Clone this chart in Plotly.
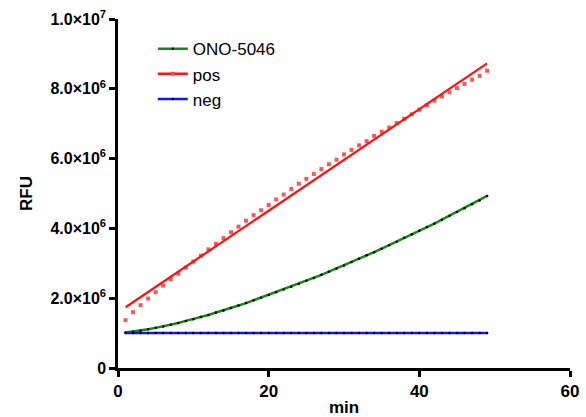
import plotly.graph_objects as go

minutes = list(range(1, 50))

ono_5046 = [1.015, 1.04, 1.07, 1.11, 1.15, 1.19, 1.24, 1.29, 1.35, 1.40,
            1.46, 1.52, 1.59, 1.65, 1.72, 1.79, 1.86, 1.94, 2.01, 2.09,
            2.17, 2.25, 2.33, 2.41, 2.50, 2.58, 2.67, 2.76, 2.85, 2.94,
            3.04, 3.13, 3.23, 3.32, 3.42, 3.52, 3.62, 3.73, 3.83, 3.93,
            4.04, 4.14, 4.25, 4.36, 4.47, 4.58, 4.69, 4.80, 4.93]
ono_5046 = [v * 1e6 for v in ono_5046]

pos = [1.37, 1.60, 1.80, 1.99, 2.17, 2.36, 2.54, 2.70, 2.88, 3.05,
       3.22, 3.40, 3.56, 3.72, 3.89, 4.05, 4.22, 4.38, 4.52, 4.67,
       4.83, 4.97, 5.13, 5.28, 5.42, 5.56, 5.70, 5.84, 5.97, 6.12,
       6.25, 6.38, 6.50, 6.65, 6.77, 6.89, 7.02, 7.14, 7.27, 7.40,
       7.53, 7.66, 7.78, 7.90, 8.02, 8.14, 8.26, 8.37, 8.52]
pos = [v * 1e6 for v in pos]

pos_fit_x = [1, 49]
pos_fit_y = [1.74e6, 8.73e6]

neg = [1.0e6] * 49

y_tickvals = [0, 2e6, 4e6, 6e6, 8e6, 1e7]
y_ticktext = ["0", "2.0×10<sup>6</sup>", "4.0×10<sup>6</sup>", "6.0×10<sup>6</sup>",
              "8.0×10<sup>6</sup>", "1.0×10<sup>7</sup>"]
x_tickvals = [0, 20, 40, 60]
x_ticktext = ["0", "20", "40", "60"]

GREEN = "#138a13"
RED = "#ff1010"
LIGHTRED = "#f24848"
BLUE = "#1414ff"
FONT = "Liberation Sans, Arial"

fig = go.Figure()

fig.add_trace(go.Scatter(x=minutes, y=ono_5046, mode="lines+markers", name="ONO-5046",
                         legendgroup="a",
                         line=dict(color=GREEN, width=2.5),
                         marker=dict(color="black", size=2.5)))
fig.add_trace(go.Scatter(x=minutes, y=pos, mode="markers", showlegend=False,
                         marker=dict(color=LIGHTRED, size=4, symbol="square", opacity=0.9)))
fig.add_trace(go.Scatter(x=pos_fit_x, y=pos_fit_y, mode="lines", showlegend=False,
                         line=dict(color=RED, width=2.2)))
fig.add_trace(go.Scatter(x=[None], y=[None], mode="lines+markers", name="pos",
                         legendgroup="b",
                         line=dict(color=RED, width=2.5),
                         marker=dict(color=LIGHTRED, size=4, symbol="square")))
fig.add_trace(go.Scatter(x=minutes, y=neg, mode="lines+markers", name="neg",
                         legendgroup="c",
                         line=dict(color=BLUE, width=2.5),
                         marker=dict(color="black", size=2.5)))

fig.update_layout(
    width=586, height=417,
    margin=dict(l=118, r=16, t=19, b=49),
    plot_bgcolor="white", paper_bgcolor="white",
    font=dict(family=FONT, size=16, color="black"),
    legend=dict(x=0.077, y=0.965, xanchor="left", yanchor="top",
                bgcolor="rgba(0,0,0,0)", font=dict(size=17, family=FONT),
                traceorder="grouped", tracegroupgap=0, itemwidth=30),
    xaxis=dict(range=[0, 60], tickvals=x_tickvals,
               ticktext=["<b>" + t + "</b>" for t in x_ticktext],
               showgrid=False, zeroline=False, automargin=False,
               ticklabeloverflow="allow",
               showline=True, linecolor="black", linewidth=2.5,
               ticks="outside", ticklen=6, tickwidth=2.5, tickcolor="black",
               tickfont=dict(size=17, family=FONT),
               title=dict(text="<b>min</b>", font=dict(size=17, family=FONT), standoff=11)),
    yaxis=dict(range=[0, 1e7], tickvals=y_tickvals,
               ticktext=["<b>" + t + "</b>" for t in y_ticktext],
               showgrid=False, zeroline=False, automargin=False,
               ticklabeloverflow="allow",
               showline=True, linecolor="black", linewidth=2.5,
               ticks="outside", ticklen=6, tickwidth=2.5, tickcolor="black",
               tickfont=dict(size=16, family=FONT),
               title=dict(text="<b>RFU</b>", font=dict(size=17, family=FONT), standoff=14)),
)

fig.write_html("out.html", config={"displayModeBar": False},
               post_script="document.body.style.margin='0';document.body.style.overflow='hidden';")
